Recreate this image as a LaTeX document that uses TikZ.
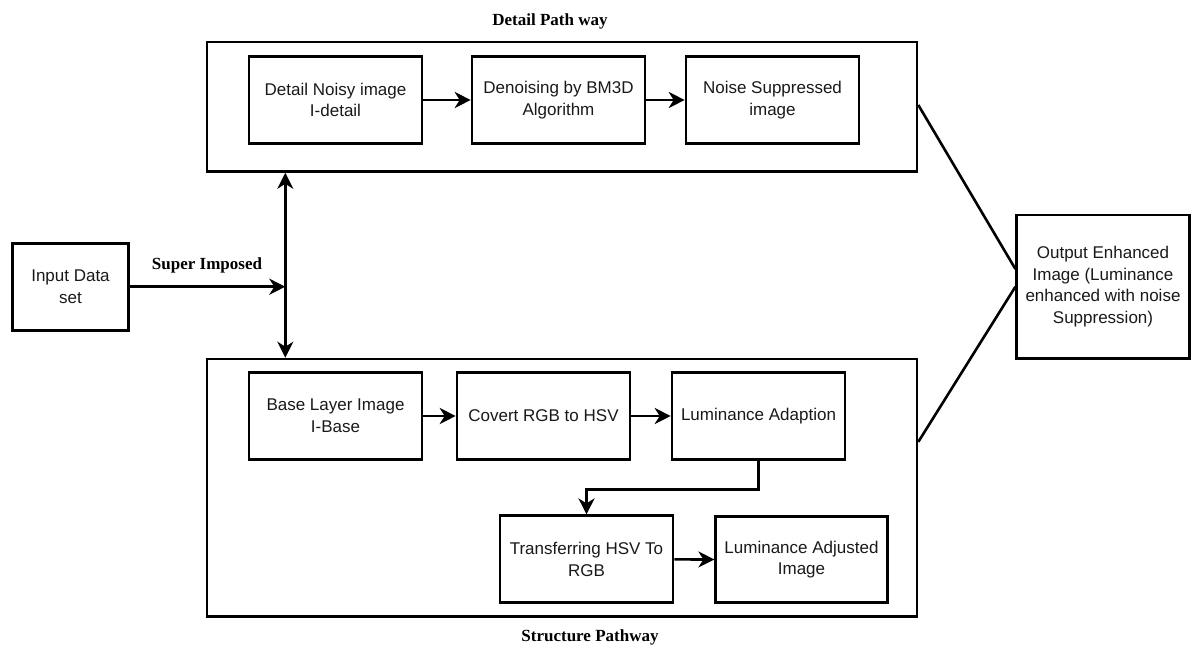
\documentclass[tikz,border=0pt]{standalone}
\usepackage{fontspec}
\setmainfont{Liberation Sans}
\newfontfamily\lserif{Liberation Serif}
\usetikzlibrary{arrows.meta,calc}
\begin{document}
\begin{tikzpicture}[x=1pt,y=-1pt,
  line width=2.6pt,
  box/.style={draw,rectangle,inner sep=2pt,align=center,font=\fontsize{17}{21.7}\selectfont,text=black!90},
  frame/.style={draw,rectangle,inner sep=0pt},
  lab/.style={font=\lserif\bfseries\fontsize{17}{20}\selectfont},
  arr/.style={-{Stealth[length=16pt,width=16pt,inset=5pt]}},
  darr/.style={{Stealth[length=16pt,width=16pt,inset=5pt]}-{Stealth[length=16pt,width=16pt,inset=5pt]}}]
\useasboundingbox (0,0) rectangle (1202,648);
% frames
\node[frame,minimum width=710pt,minimum height=129.5pt] (detail) at (562,106.75) {};
\node[frame,minimum width=710pt,minimum height=257.7pt] (struct) at (562,487.85) {};
% labels
\node[lab] (ldetail) at (550,21.5) {Detail Path way};
\node[lab] (lstruct) at (590,637) {Structure Pathway};
\node[lab] (lsuper) at (207,265.5) {Super Imposed};
% detail row
\node[box,minimum width=173pt,minimum height=86.5pt] (dnoisy) at (335.5,100) {Detail Noisy image\\I-detail};
\node[box,minimum width=173pt,minimum height=86.5pt] (denoise) at (558.5,100) {Denoising by BM3D\\Algorithm};
\node[box,minimum width=173pt,minimum height=86.5pt] (nsup) at (772.5,100) {Noise Suppressed\\image};
% structure rows
\node[box,minimum width=173pt,minimum height=86.5pt] (base) at (335.5,416) {Base Layer Image\\I-Base};
\node[box,minimum width=173pt,minimum height=86.5pt] (covert) at (543.5,416) {Covert RGB to HSV};
\node[box,minimum width=173pt,minimum height=86.5pt] (lumad) at (758.5,416) {Luminance Adaption};
\node[box,minimum width=173pt,minimum height=87pt] (trans) at (586.5,559.2) {Transferring HSV To\\RGB};
\node[box,minimum width=171.6pt,minimum height=86pt] (ladj) at (801.5,559.7) {Luminance Adjusted\\Image};
% input / output
\node[box,minimum width=115.6pt,minimum height=87.4pt] (input) at (70.5,287) {Input Data\\set};
\node[box,minimum width=172.6pt,minimum height=143.3pt] (output) at (1103,286.7) {Output Enhanced\\Image (Luminance\\enhanced with noise\\Suppression)};
% connectors
\coordinate (j) at (285.3,286.7);
\draw[arr] (input.east |- j) -- (j);
\draw[darr] (detail.south -| j) -- (struct.north -| j);
\draw[arr] (dnoisy) -- (denoise);
\draw[arr] (denoise) -- (nsup);
\draw[arr] (base) -- (covert);
\draw[arr] (covert) -- (lumad);
\draw[arr] (lumad.south) -- ++(0,28.7) -| (trans.north);
\draw[arr] (trans) -- (ladj);
\draw ([yshift=1.75pt]detail.east) -- ([yshift=17.7pt]output.west);
\draw ([yshift=46pt]struct.east) -- (output.west);
\end{tikzpicture}
\end{document}
